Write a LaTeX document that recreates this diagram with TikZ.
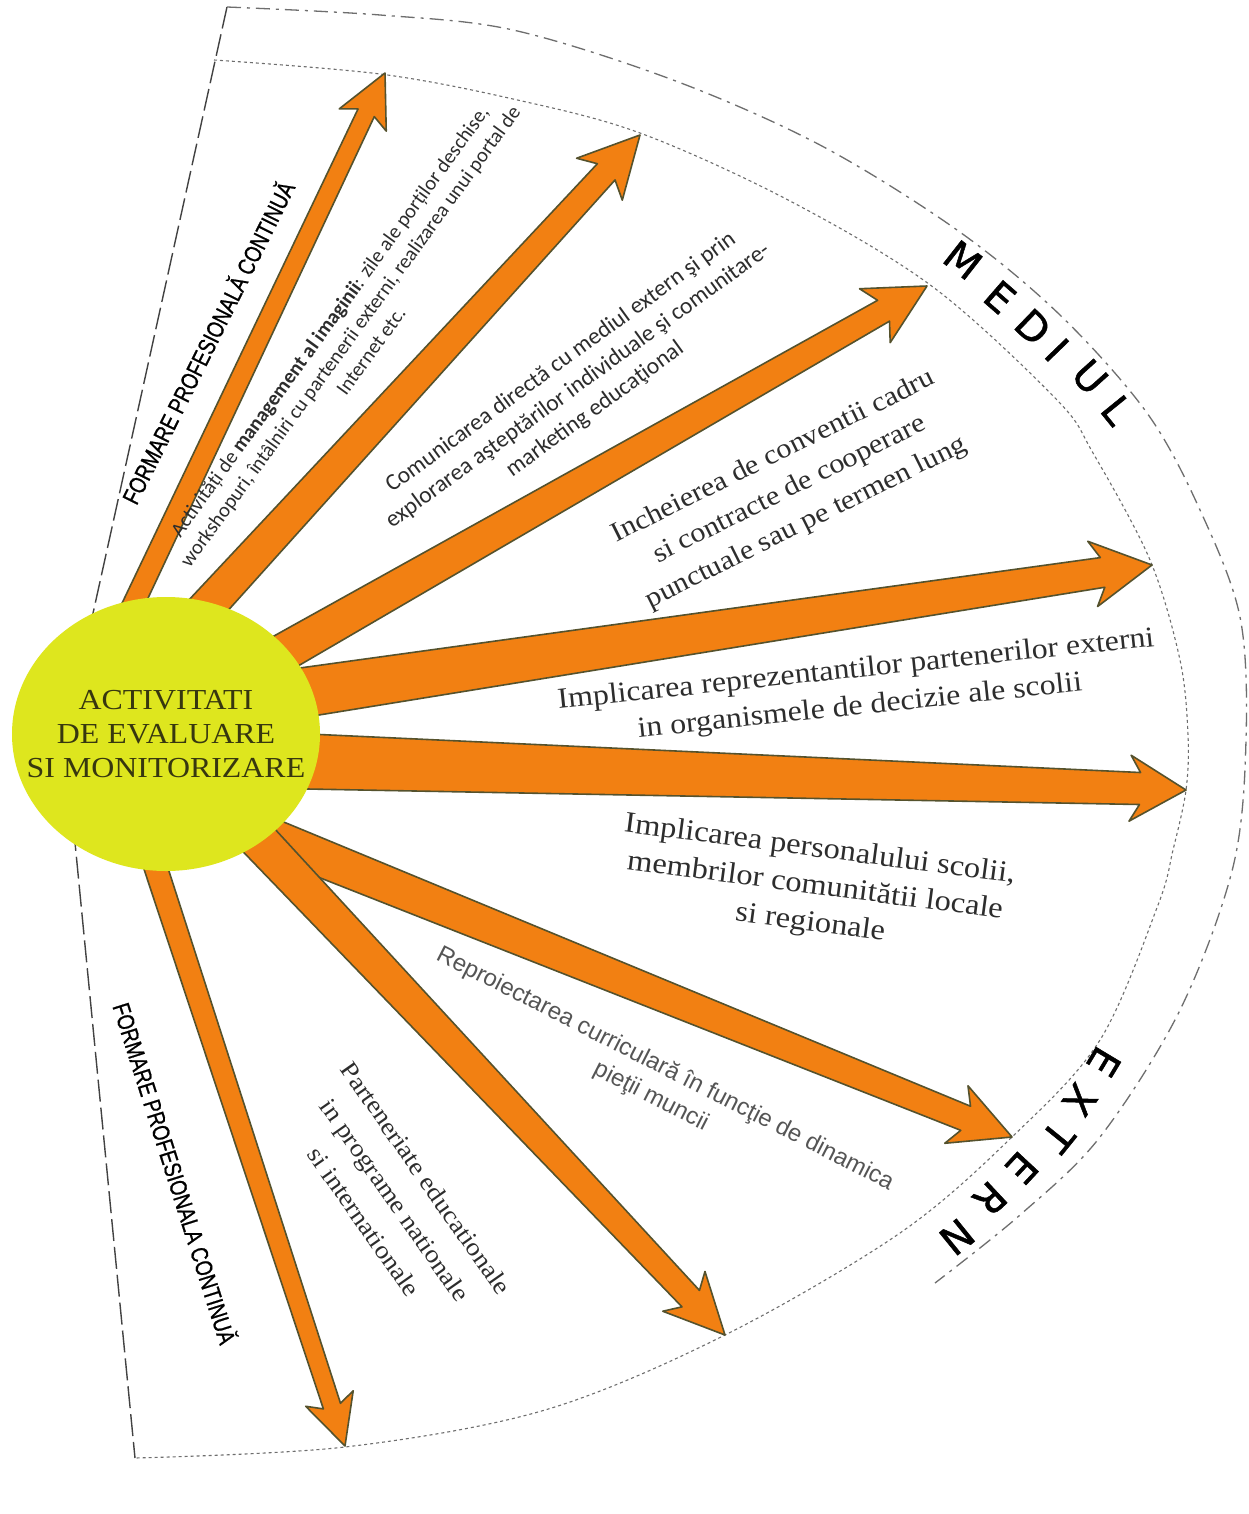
\documentclass[tikz,border=0pt]{standalone}
\usepackage{fontspec}
\setmainfont{Liberation Serif}
\newfontfamily\carl{Carlito}
\newfontfamily\arl{Liberation Sans}
\newfontfamily\narr[FakeStretch=0.8,FakeBold=0.8]{Liberation Sans}
\newfontfamily\dvs[FakeBold=1.2]{DejaVu Sans}
\newfontfamily\wideserif[FakeStretch=1.1]{Liberation Serif}
\usetikzlibrary{calc}
\definecolor{arroworange}{RGB}{242,128,18}
\definecolor{arrowedge}{RGB}{85,82,45}
\definecolor{sunyellow}{RGB}{222,230,30}
\definecolor{suntext}{RGB}{55,55,15}
\definecolor{txt}{RGB}{45,45,45}
\definecolor{txtlight}{RGB}{85,85,85}
\definecolor{framegray}{RGB}{110,110,110}
\newcommand\drawfatarrow[7]{%
  \coordinate (#2n) at ($(#2)!#6pt!(#1)$);
  \coordinate (#2b) at ($(#2)!#7pt!(#1)$);
  \filldraw[arrowbody] ($(#1)!#3pt!90:(#2)$) -- ($(#2n)!#4pt!-90:(#1)$) -- ($(#2b)!#5pt!-90:(#1)$) -- (#2)
    -- ($(#2b)!#5pt!90:(#1)$) -- ($(#2n)!#4pt!90:(#1)$) -- ($(#1)!#3pt!-90:(#2)$) -- cycle;}
\begin{document}
\begin{tikzpicture}[x=1pt,y=-1pt,
  arrowbody/.style={fill=arroworange, draw=arrowedge, line width=1.6pt, line join=round},
  framedash/.style={draw=framegray, line width=1.3pt, dash pattern=on 14pt off 6pt on 3pt off 6pt},
  framedot/.style={draw=framegray, line width=1.1pt, dash pattern=on 3pt off 3pt},
  leftline/.style={draw=framegray!60!black, line width=1.4pt, dash pattern=on 22pt off 6pt},
  blocktext/.style={align=center, text=txt, inner sep=0pt},
  band/.style={font=\dvs\fontsize{40}{40}\selectfont, text=black, inner sep=0pt},
  fpc/.style={font=\narr\fontsize{24}{24}\selectfont, text=black, inner sep=0pt}
]
\path[fill=white] (0,0) rectangle (1248,1514);
\useasboundingbox (0,0) rectangle (1248,1514);

% frame of the sector
\coordinate (apex) at (65,740);
\coordinate (topL) at (227,7);
\coordinate (botL) at (135,1458);
\draw[leftline] (topL) -- (apex) -- (botL);
\draw[framedot] plot[smooth,tension=0.55] coordinates {(214,60) (380,74) (513,99) (640,133) (790,201) (933,287) (1057,400) (1093,453) (1150,560) (1180,660) (1188,735) (1186,790) (1173,850) (1158,905) (1100,1040) (1012,1137) (900,1233) (725,1335) (545,1410) (345,1447) (135,1458)};
\draw[framedash] plot[smooth,tension=0.55] coordinates {(227,7) (380,15) (513,30) (673,80) (820,145) (957,230) (1060,315) (1147,413) (1200,510) (1240,617) (1246,740) (1233,867) (1180,1010) (1100,1137) (1020,1215) (935,1283)};

% arrows
\coordinate (sunc) at (166,734);
\coordinate (S1) at (88,700);   \coordinate (T1) at (385,73);
\coordinate (S2) at (140,680);  \coordinate (T2) at (640,135);
\coordinate (S3) at (200,700);  \coordinate (T3) at (927,286);
\coordinate (S4) at (200,708);  \coordinate (T4) at (1152,565);
\coordinate (S5) at (200,758);  \coordinate (T5) at (1186,790);
\coordinate (S6) at (200,809);  \coordinate (T6) at (1012,1137);
\coordinate (S7) at (221,800);  \coordinate (T7) at (725,1335);
\coordinate (S8) at (127,780);  \coordinate (T8) at (345,1446);
\drawfatarrow{S1}{T1}{11}{9}{26}{44}{52}
\drawfatarrow{S2}{T2}{19}{12}{31}{50}{60}
\drawfatarrow{S3}{T3}{20}{12}{31}{50}{60}
\drawfatarrow{S4}{T4}{26}{15}{33}{50}{60}
\drawfatarrow{S5}{T5}{29}{16}{33}{46}{56}
\drawfatarrow{S6}{T6}{20}{13}{31}{50}{60}
\drawfatarrow{S7}{T7}{20}{12}{29}{50}{60}
\drawfatarrow{S8}{T8}{12}{9}{25}{42}{50}

% central disc
\fill[sunyellow] (sunc) ellipse [x radius=154pt, y radius=137pt];
\node[align=center, text=suntext, inner sep=0pt, font=\wideserif\fontsize{29}{34}\selectfont] (sun) at (sunc)
      {ACTIVITATI\\DE EVALUARE\\SI MONITORIZARE};

% side labels
\node[fpc, rotate=63.5] (fpc1) at (207,342) {FORMARE PROFESIONALĂ CONTINUĂ};
\node[fpc, rotate=-72.4] (fpc2) at (176,1173) {FORMARE PROFESIONALA CONTINUĂ};

% band letters
\foreach \l/\x/\y/\r [count=\i] in {M/963/260/-38, E/1000/297/-41, D/1033/327/-44, I/1057/350/-46, U/1090/377/-48, L/1117/410/-51}
  \node[band, rotate=\r] (med\i) at (\x,\y) {\l};
\foreach \l/\x/\y/\r [count=\i] in {E/1104/1062/-121, X/1080/1100/-125, T/1058/1137/-129, E/1022/1168/-133, R/990/1199/-137, N/957/1237/-141}
  \node[band, rotate=\r] (ext\i) at (\x,\y) {\l};

% text blocks
\node[blocktext, rotate=54, font=\carl\fontsize{20.5}{25.5}\selectfont] (tA) at (350,336)
  {Activități de \textbf{management al imaginii}: zile ale porților deschise,\\
   workshopuri, întâlniri cu partenerii externi, realizarea unui portal de\\
   Internet etc.};
\node[blocktext, rotate=36, font=\carl\fontsize{23.5}{29}\selectfont] (tB) at (578,386)
  {Comunicarea directă cu mediul extern şi prin\\
   explorarea aşteptărilor individuale şi comunitare-\\
   marketing educaţional};
\node[blocktext, rotate=26.5, font=\wideserif\fontsize{27.5}{37}\selectfont] (tC) at (790,490)
  {Incheierea de conventii cadru\\si contracte de cooperare\\punctuale sau pe termen lung};
\node[blocktext, rotate=6, font=\wideserif\fontsize{29}{37}\selectfont] (tD) at (858,689)
  {Implicarea reprezentantilor partenerilor externi\\in organismele de decizie ale scolii};
\node[blocktext, rotate=-7.5, font=\wideserif\fontsize{29.5}{37}\selectfont] (tE) at (815,887)
  {Implicarea personalului scolii,\\membrilor comunitătii locale\\si regionale};
\node[blocktext, text=txtlight, rotate=-27, font=\arl\fontsize{24}{31}\selectfont] (tF) at (658,1083)
  {Reproiectarea curriculară în funcţie de dinamica\\pieţii muncii};
\node[blocktext, rotate=-55, font=\wideserif\fontsize{25}{38}\selectfont] (tG) at (395,1200)
  {Parteneriate educationale\\in programe nationale\\si internationale};
\end{tikzpicture}
\end{document}
